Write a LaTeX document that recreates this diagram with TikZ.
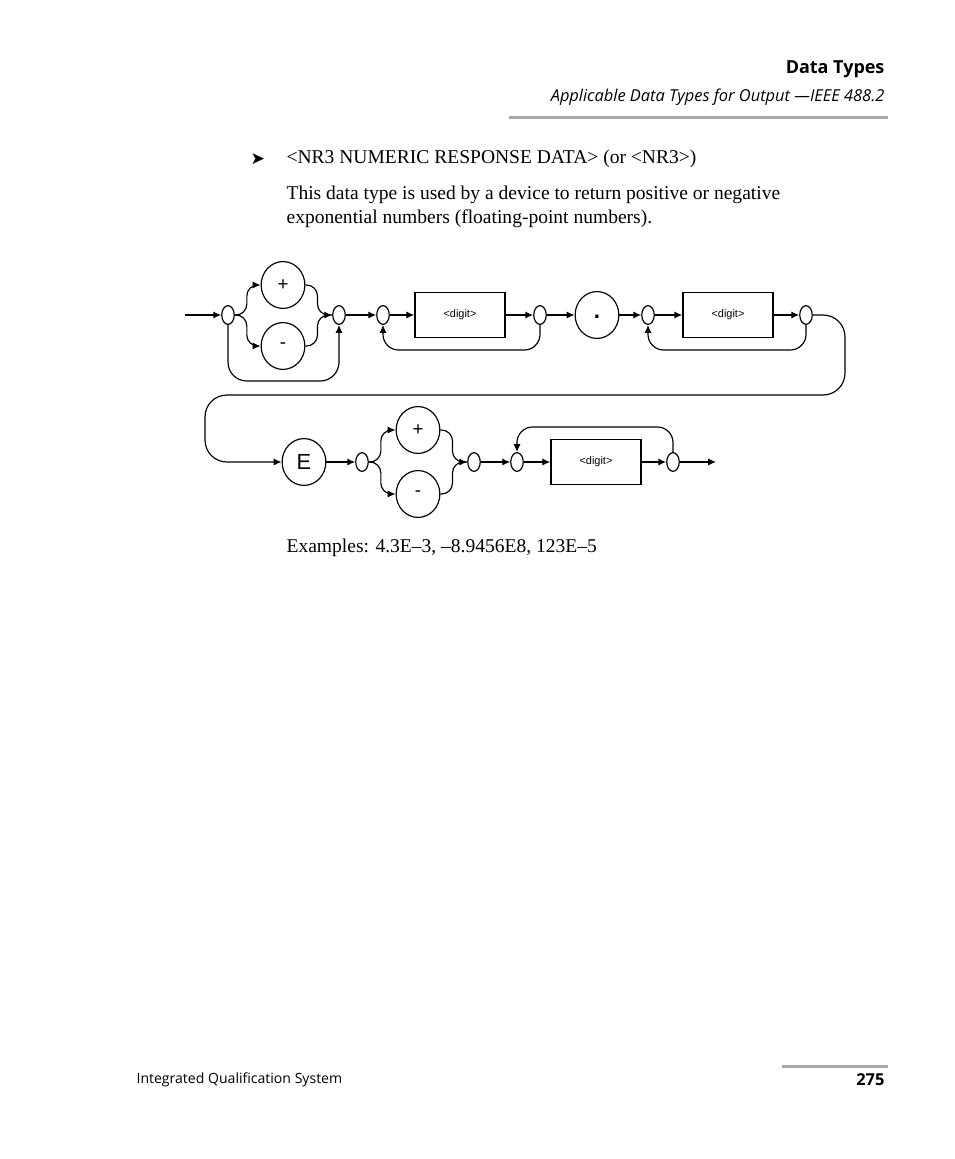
\documentclass[tikz,border=0pt]{standalone}
\usepackage{fontspec}
\setmainfont{Liberation Serif}
\setsansfont{Open Sans}
\newfontfamily\arialfont{Liberation Sans}
\usetikzlibrary{arrows.meta,shapes.geometric}
\tikzset{every picture/.style={line width=0.75pt}}
\tikzset{
  junc/.style={draw,ellipse,minimum width=8pt,minimum height=12pt,inner sep=0pt},
  term/.style={draw,ellipse,minimum width=28pt,minimum height=30pt,inner sep=0pt,font=\arialfont\fontsize{12}{14}\selectfont},
  digitbox/.style={draw,line width=1pt,minimum width=57.6pt,minimum height=28.8pt,inner sep=0pt,font=\arialfont\fontsize{7}{8}\selectfont},
  flow/.style={-{Latex[length=5pt,width=4.5pt]}},
  wire/.style={rounded corners=7pt}
}

\begin{document}
\begin{tikzpicture}[x=0.64pt,y=0.64pt,yscale=-1]
  \useasboundingbox (0,0) rectangle (954,1159);

  % Header
  \node (title) [anchor=east,inner sep=0pt,font=\sffamily\bfseries\fontsize{11.5}{13}\selectfont] at (885,69) {Data Types};
  \node (subtitle) [anchor=east,inner sep=0pt,font=\sffamily\itshape\fontsize{10.5}{12}\selectfont] at (885,97) {Applicable Data Types for Output —IEEE 488.2};
  \fill[black!35] (509,116) rectangle (888,119);

  % Text Node
  \node (bullet) [anchor=west,inner sep=0pt,font=\fontsize{11}{13}\selectfont] at (250,159) {\fontspec{DejaVu Sans}➤};
  \node (item) [anchor=west,inner sep=0pt,font=\fontsize{12.5}{14}\selectfont] at (286,159) {<NR3 NUMERIC RESPONSE DATA> (or <NR3>)};
  \node (desc) [anchor=north west,inner sep=0pt,align=left,font=\fontsize{12.5}{15.4}\selectfont] at (286,185) {This data type is used by a device to return positive or negative\\exponential numbers (floating-point numbers).};

  % Row 1
  \coordinate (start) at (185,315);
  \node[junc] (s1) at (228,315) {};
  \node[term] (plus1) at (283,285) {+};
  \node[term] (minus1) at (283,346) {-};
  \node[junc] (s2) at (339,315) {};
  \node[junc] (s3) at (383,315) {};
  \node[digitbox] (dig1) at (460,315) {<digit>};
  \node[junc] (s4) at (540,315) {};
  \node[term] (dot) at (597,315) {\raisebox{-5pt}{\textbf{\Large.}}};
  \node[junc] (s5) at (648,315) {};
  \node[digitbox] (dig2) at (728,315) {<digit>};
  \node[junc] (s6) at (806,315) {};

  % Row 2
  \node[term] (E) at (304,462) {\fontsize{14}{16}\selectfont E};
  \node[junc] (t1) at (362,462) {};
  \node[term] (plus2) at (418,430) {+};
  \node[term] (minus2) at (418,494) {-};
  \node[junc] (t2) at (474,462) {};
  \node[junc] (t3) at (517,462) {};
  \node[digitbox] (dig3) at (596,462) {<digit>};
  \node[junc] (t4) at (673,462) {};
  \coordinate (stop) at (716,462);

  % Connectors row 1
  \draw[flow] (start) -- (s1);
  \draw[flow,wire] (s1.east) -- ++(12,0) |- (plus1.west);
  \draw[flow,wire] (s1.east) -- ++(12,0) |- (minus1.west);
  \draw[wire] (plus1.east) -- ++(12,0) |- (s2.west);
  \draw[flow,wire] (minus1.east) -- ++(12,0) |- (s2.west);
  \draw[flow,rounded corners=12pt] (s1.south) |- (283,381) -| (s2.south);
  \draw[flow] (s2) -- (s3);
  \draw[flow] (s3) -- (dig1);
  \draw[flow] (dig1) -- (s4);
  \draw[flow,rounded corners=10pt] (s4.south) |- (460,350) -| (s3.south);
  \draw[flow] (s4) -- (dot);
  \draw[flow] (dot) -- (s5);
  \draw[flow] (s5) -- (dig2);
  \draw[flow] (dig2) -- (s6);
  \draw[flow,rounded corners=10pt] (s6.south) |- (728,350) -| (s5.south);

  % Wrap to row 2
  \draw[flow,rounded corners=14pt] (s6.east) -- (845,315) |- (205,395) |- (E.west);

  % Connectors row 2
  \draw[flow] (E) -- (t1);
  \draw[flow,wire] (t1.east) -- ++(12,0) |- (plus2.west);
  \draw[flow,wire] (t1.east) -- ++(12,0) |- (minus2.west);
  \draw[wire] (plus2.east) -- ++(12,0) |- (t2.west);
  \draw[flow,wire] (minus2.east) -- ++(12,0) |- (t2.west);
  \draw[flow] (t2) -- (t3);
  \draw[flow] (t3) -- (dig3);
  \draw[flow] (dig3) -- (t4);
  \draw[flow,rounded corners=10pt] (t4.north) |- (596,427) -| (t3.north);
  \draw[flow] (t4) -- (stop);

  % Text Node
  \node (examples) [anchor=west,inner sep=0pt,font=\fontsize{12.5}{14}\selectfont] at (286,548) {Examples: 4.3E–3, –8.9456E8, 123E–5};

  % Footer
  \fill[black!35] (782,1065) rectangle (888,1068);
  \node (footer) [anchor=west,inner sep=0pt,font=\sffamily\fontsize{9}{11}\selectfont] at (136,1080) {Integrated Qualification System};
  \node (page) [anchor=east,inner sep=0pt,font=\sffamily\bfseries\fontsize{10.5}{12}\selectfont] at (885,1080) {275};
\end{tikzpicture}
\end{document}
